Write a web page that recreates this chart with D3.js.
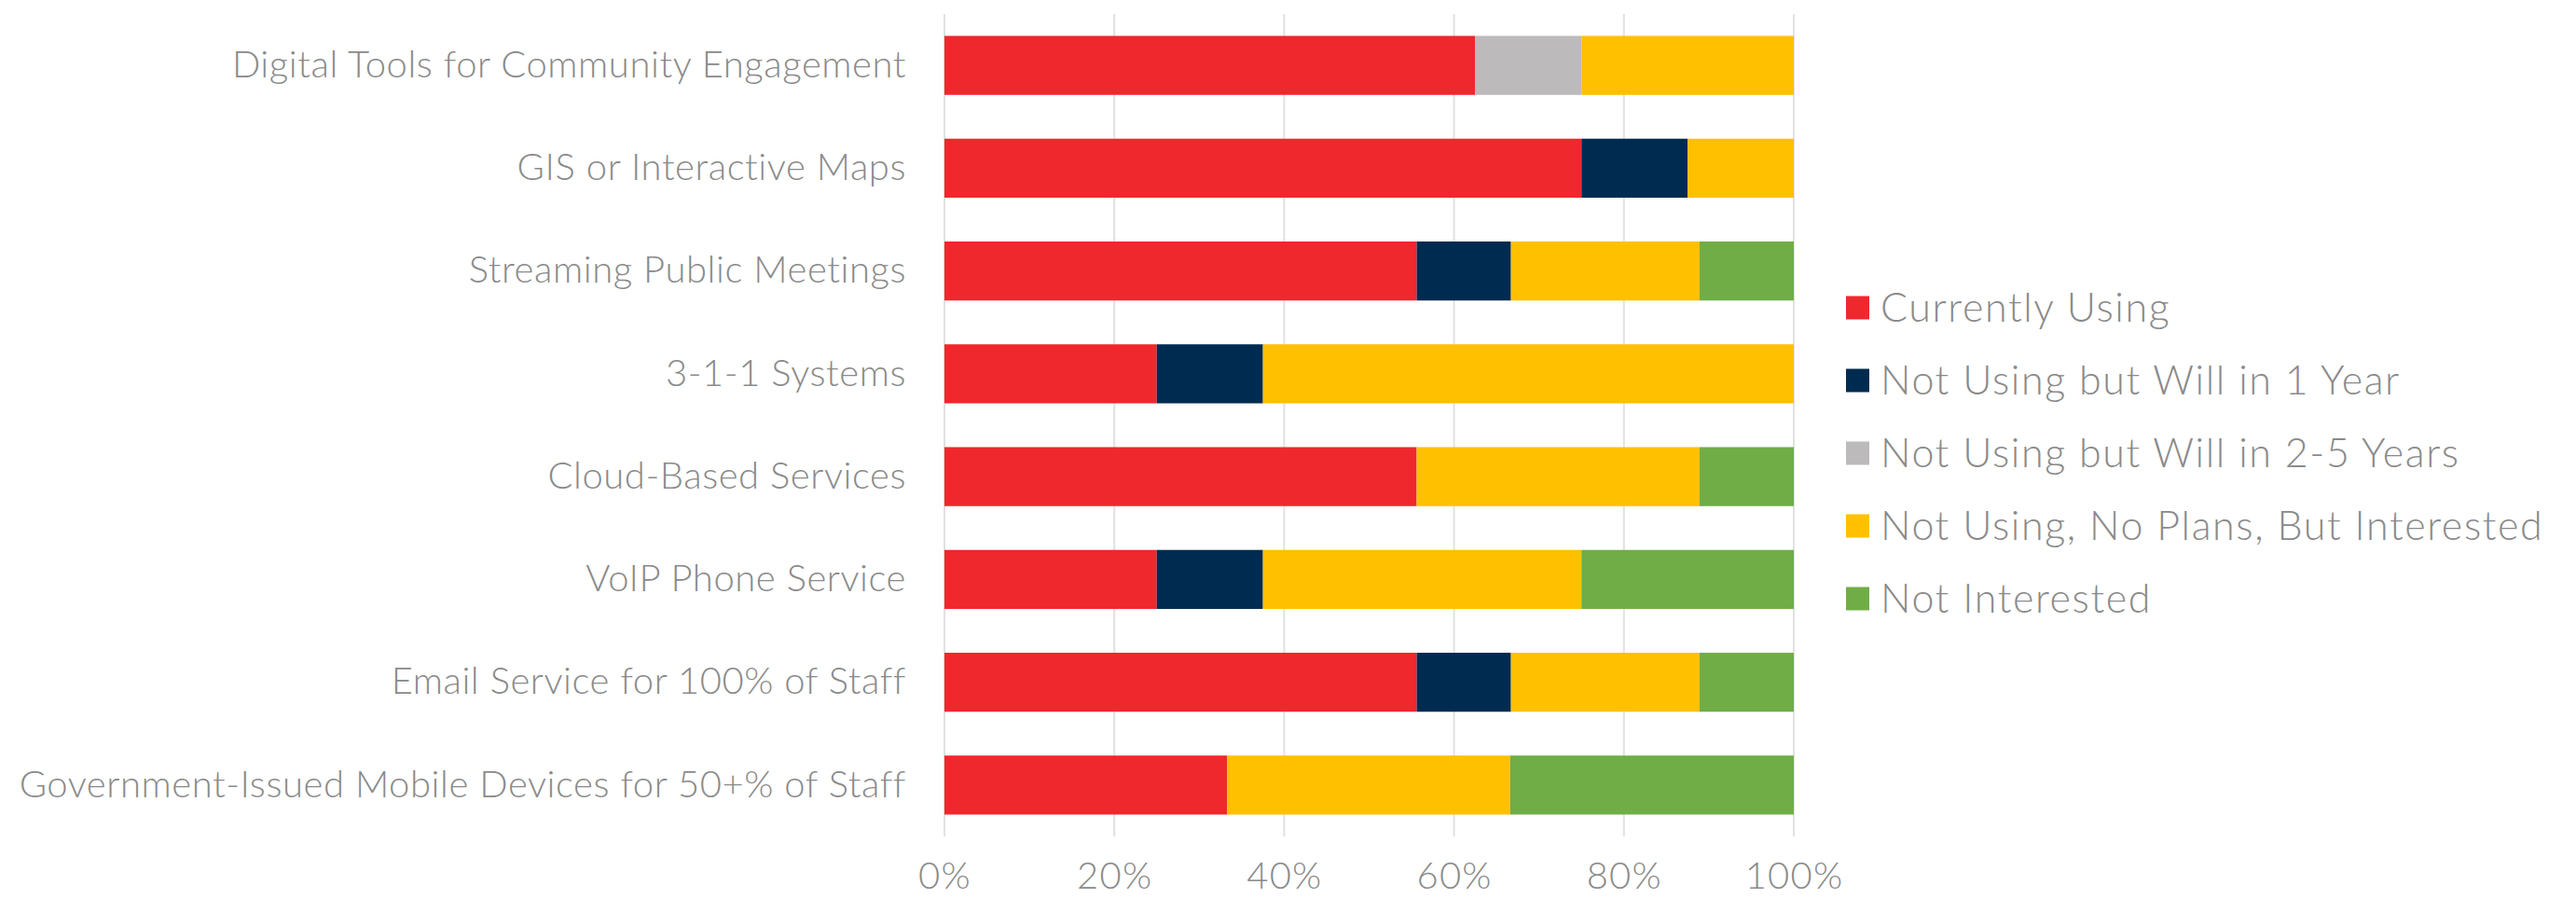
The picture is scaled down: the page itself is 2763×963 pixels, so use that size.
<!DOCTYPE html>
<html>
<head>
<meta charset="utf-8">
<script src="https://cdn.jsdelivr.net/npm/d3@7"></script>
<style>
  html, body { margin: 0; padding: 0; background: #ffffff; }
  svg { display: block; }
  text { font-family: "Lato", "Open Sans", sans-serif; font-weight: 300; fill: #8a8a8a; }
</style>
</head>
<body>
<svg id="chart" width="2763" height="963"></svg>
<script>
// ---- data ----
const categories = [
  "Digital Tools for Community Engagement",
  "GIS or Interactive Maps",
  "Streaming Public Meetings",
  "3-1-1 Systems",
  "Cloud-Based Services",
  "VoIP Phone Service",
  "Email Service for 100% of Staff",
  "Government-Issued Mobile Devices for 50+% of Staff"
];
const seriesNames = [
  "Currently Using",
  "Not Using but Will in 1 Year",
  "Not Using but Will in 2-5 Years",
  "Not Using, No Plans, But Interested",
  "Not Interested"
];
const currentlyUsing   = [62.5, 75.0, 55.6, 25.0, 55.6, 25.0, 55.6, 33.3];
const willIn1Year      = [0,    12.5, 11.1, 12.5, 0,    12.5, 11.1, 0   ];
const willIn2to5Years  = [12.5, 0,    0,    0,    0,    0,    0,    0   ];
const noPlansInterested= [25.0, 12.5, 22.2, 62.5, 33.3, 37.5, 22.2, 33.3];
const notInterested    = [0,    0,    11.1, 0,    11.1, 25.0, 11.1, 33.4];
const tickValues = [0, 20, 40, 60, 80, 100];
const tickLabels = ["0%", "20%", "40%", "60%", "80%", "100%"];
const colors = ["#EE282D", "#002B50", "#BCBABA", "#FFC000", "#70AD47"];

const seriesValues = [currentlyUsing, willIn1Year, willIn2to5Years, noPlansInterested, notInterested];

// ---- build table ----
const table = categories.map((c, i) => {
  const row = { category: c };
  seriesNames.forEach((s, j) => { row[s] = seriesValues[j][i]; });
  return row;
});
const stacked = d3.stack().keys(seriesNames)(table);

// ---- layout ----
const svg = d3.select("#chart");
const x = d3.scaleLinear().domain([0, 100]).range([1013, 1924]);
const y = d3.scaleBand().domain(categories).range([15, 897])
  .paddingInner(0.426).paddingOuter(0.213);
const color = d3.scaleOrdinal().domain(seriesNames).range(colors);

// gridlines
svg.append("g").selectAll("line").data(tickValues).join("line")
  .attr("x1", d => x(d)).attr("x2", d => x(d))
  .attr("y1", 15).attr("y2", 897)
  .attr("stroke", "#e1e1e1").attr("stroke-width", 2);

// bars
svg.append("g").selectAll("g").data(stacked).join("g")
  .attr("fill", d => color(d.key))
  .selectAll("rect").data(d => d).join("rect")
  .attr("x", d => x(d[0]))
  .attr("width", d => Math.max(0, x(d[1]) - x(d[0])))
  .attr("y", d => y(d.data.category))
  .attr("height", y.bandwidth());

// x axis labels
const xAxis = d3.axisBottom(x).tickValues(tickValues)
  .tickFormat((d, i) => tickLabels[i]).tickSize(0).tickPadding(0);
const gx = svg.append("g").attr("transform", "translate(0,924)").call(xAxis);
gx.select(".domain").remove();
gx.selectAll("text").attr("font-size", 40).attr("dy", "0.72em")
  .attr("fill", "#8a8a8a").style("font-family", "Lato, 'Open Sans', sans-serif")
  .style("font-weight", 300).style("letter-spacing", "1.2px");

// y axis labels
const yAxis = d3.axisLeft(y).tickSize(0).tickPadding(41);
const gy = svg.append("g").attr("transform", `translate(${x(0)},0)`).call(yAxis);
gy.select(".domain").remove();
gy.selectAll("text").attr("font-size", 40)
  .attr("fill", "#8a8a8a").style("font-family", "Lato, 'Open Sans', sans-serif")
  .style("font-weight", 300).style("letter-spacing", "0.55px");

// legend
const legend = svg.append("g").attr("transform", "translate(1980,330)");
const li = legend.selectAll("g").data(seriesNames).join("g")
  .attr("transform", (d, i) => `translate(0,${i * 78})`);
li.append("rect").attr("x", 0).attr("y", -12.5).attr("width", 25).attr("height", 25)
  .attr("fill", d => color(d));
li.append("text").attr("x", 37).attr("dy", "0.35em").attr("font-size", 43)
  .style("letter-spacing", "1.6px").text(d => d);
</script>
</body>
</html>
